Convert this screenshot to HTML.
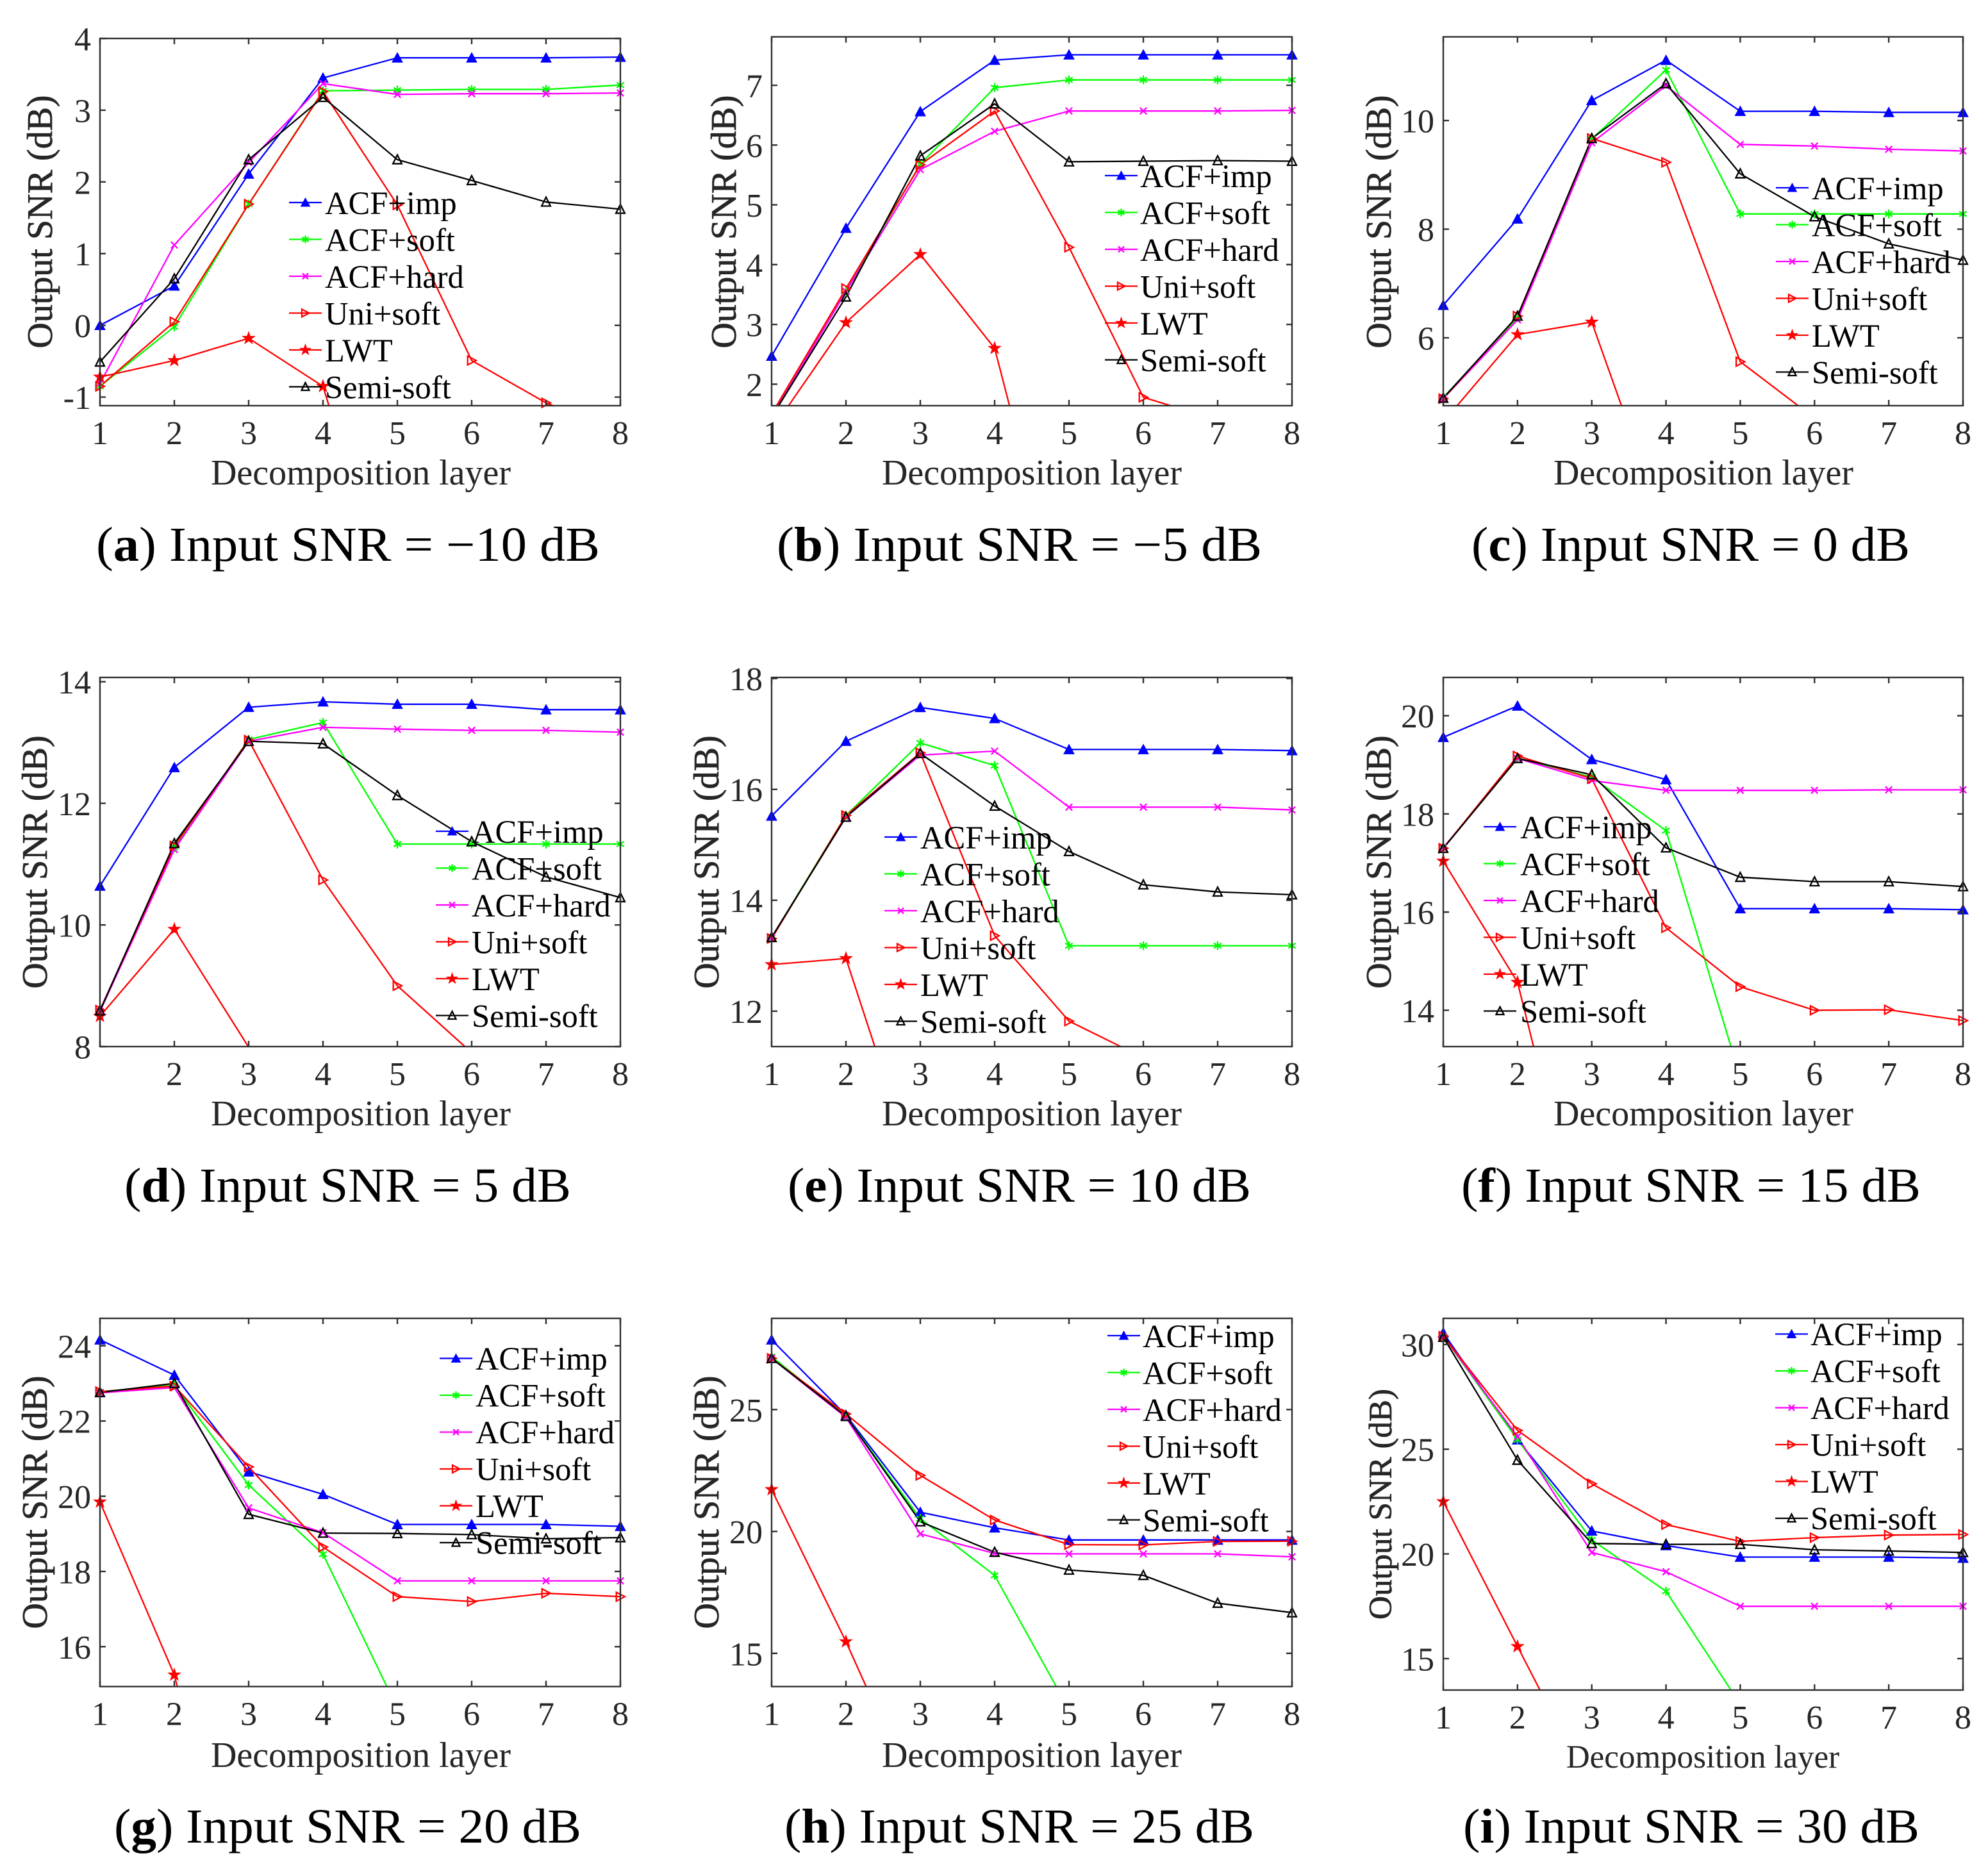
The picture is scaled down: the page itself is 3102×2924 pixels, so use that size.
<!DOCTYPE html>
<html lang="en">
<head>
<meta charset="utf-8">
<title>Output SNR versus decomposition layer</title>
<style>
html,body{margin:0;padding:0;background:#fff;width:3102px;height:2924px;overflow:hidden;}
svg{display:block;font-family:"Liberation Serif",serif;overflow:hidden;}
.xl{font-size:56px;fill:#262626;text-anchor:middle;}
.yl{font-size:56px;fill:#262626;text-anchor:middle;stroke:#262626;stroke-width:0.7px;}
.lg{font-size:50.6px;fill:#000;}
.cap{font-size:76px;fill:#000;}
.cap tspan{font-weight:bold;}
.tk{font-size:52px;fill:#262626;}
</style>
</head>
<body>
<svg id="figure" xmlns="http://www.w3.org/2000/svg" width="3102" height="2924" viewBox="0 0 3102 2924">
<rect x="0" y="0" width="3102" height="2924" fill="#fff"/>
<g id="plots"></g>

<g>
<text class="xl" x="563" y="756">Decomposition layer</text>
<text class="yl" transform="translate(81 346) rotate(-90)">Output SNR (dB)</text>
<text class="lg" x="507" y="334">ACF+imp</text>
<text class="lg" x="507" y="391.5">ACF+soft</text>
<text class="lg" x="507" y="449">ACF+hard</text>
<text class="lg" x="507" y="506.5">Uni+soft</text>
<text class="lg" x="507" y="564">LWT</text>
<text class="lg" x="507" y="621.5">Semi-soft</text>
<text class="cap" x="150" y="875" textLength="786" lengthAdjust="spacingAndGlyphs">(<tspan>a</tspan>) Input SNR = −10 dB</text>
</g>

<g>
<text class="xl" x="1610" y="756">Decomposition layer</text>
<text class="yl" transform="translate(1148 346) rotate(-90)">Output SNR (dB)</text>
<text class="lg" x="1779" y="292">ACF+imp</text>
<text class="lg" x="1779" y="349.5">ACF+soft</text>
<text class="lg" x="1779" y="407">ACF+hard</text>
<text class="lg" x="1779" y="464.5">Uni+soft</text>
<text class="lg" x="1779" y="522">LWT</text>
<text class="lg" x="1779" y="579.5">Semi-soft</text>
<text class="cap" x="1212" y="875" textLength="757" lengthAdjust="spacingAndGlyphs">(<tspan>b</tspan>) Input SNR = −5 dB</text>
</g>

<g>
<text class="xl" x="2658" y="756">Decomposition layer</text>
<text class="yl" transform="translate(2170 346) rotate(-90)">Output SNR (dB)</text>
<text class="lg" x="2827" y="311">ACF+imp</text>
<text class="lg" x="2827" y="368.5">ACF+soft</text>
<text class="lg" x="2827" y="426">ACF+hard</text>
<text class="lg" x="2827" y="483.5">Uni+soft</text>
<text class="lg" x="2827" y="541">LWT</text>
<text class="lg" x="2827" y="598.5">Semi-soft</text>
<text class="cap" x="2296" y="875" textLength="684" lengthAdjust="spacingAndGlyphs">(<tspan>c</tspan>) Input SNR = 0 dB</text>
</g>

<g>
<text class="xl" x="563" y="1756">Decomposition layer</text>
<text class="yl" transform="translate(73 1345) rotate(-90)">Output SNR (dB)</text>
<text class="lg" x="736" y="1315">ACF+imp</text>
<text class="lg" x="736" y="1372.5">ACF+soft</text>
<text class="lg" x="736" y="1430">ACF+hard</text>
<text class="lg" x="736" y="1487.5">Uni+soft</text>
<text class="lg" x="736" y="1545">LWT</text>
<text class="lg" x="736" y="1602.5">Semi-soft</text>
<text class="cap" x="194" y="1875" textLength="697" lengthAdjust="spacingAndGlyphs">(<tspan>d</tspan>) Input SNR = 5 dB</text>
</g>

<g>
<text class="xl" x="1610" y="1756">Decomposition layer</text>
<text class="yl" transform="translate(1121 1345) rotate(-90)">Output SNR (dB)</text>
<text class="lg" x="1436" y="1324">ACF+imp</text>
<text class="lg" x="1436" y="1381.5">ACF+soft</text>
<text class="lg" x="1436" y="1439">ACF+hard</text>
<text class="lg" x="1436" y="1496.5">Uni+soft</text>
<text class="lg" x="1436" y="1554">LWT</text>
<text class="lg" x="1436" y="1611.5">Semi-soft</text>
<text class="cap" x="1229" y="1875" textLength="723" lengthAdjust="spacingAndGlyphs">(<tspan>e</tspan>) Input SNR = 10 dB</text>
</g>

<g>
<text class="xl" x="2658" y="1756">Decomposition layer</text>
<text class="yl" transform="translate(2170 1345) rotate(-90)">Output SNR (dB)</text>
<text class="lg" x="2372" y="1308">ACF+imp</text>
<text class="lg" x="2372" y="1365.5">ACF+soft</text>
<text class="lg" x="2372" y="1423">ACF+hard</text>
<text class="lg" x="2372" y="1480.5">Uni+soft</text>
<text class="lg" x="2372" y="1538">LWT</text>
<text class="lg" x="2372" y="1595.5">Semi-soft</text>
<text class="cap" x="2280" y="1875" textLength="717" lengthAdjust="spacingAndGlyphs">(<tspan>f</tspan>) Input SNR = 15 dB</text>
</g>

<g>
<text class="xl" x="563" y="2757">Decomposition layer</text>
<text class="yl" transform="translate(73 2344) rotate(-90)">Output SNR (dB)</text>
<text class="lg" x="742" y="2137">ACF+imp</text>
<text class="lg" x="742" y="2194.5">ACF+soft</text>
<text class="lg" x="742" y="2252">ACF+hard</text>
<text class="lg" x="742" y="2309.5">Uni+soft</text>
<text class="lg" x="742" y="2367">LWT</text>
<text class="lg" x="742" y="2424.5">Semi-soft</text>
<text class="cap" x="178" y="2875" textLength="729" lengthAdjust="spacingAndGlyphs">(<tspan>g</tspan>) Input SNR = 20 dB</text>
</g>

<g>
<text class="xl" x="1610" y="2757">Decomposition layer</text>
<text class="yl" transform="translate(1121 2344) rotate(-90)">Output SNR (dB)</text>
<text class="lg" x="1783" y="2102">ACF+imp</text>
<text class="lg" x="1783" y="2159.5">ACF+soft</text>
<text class="lg" x="1783" y="2217">ACF+hard</text>
<text class="lg" x="1783" y="2274.5">Uni+soft</text>
<text class="lg" x="1783" y="2332">LWT</text>
<text class="lg" x="1783" y="2389.5">Semi-soft</text>
<text class="cap" x="1224" y="2875" textLength="733" lengthAdjust="spacingAndGlyphs">(<tspan>h</tspan>) Input SNR = 25 dB</text>
</g>

<g>
<text class="xl" style="font-size:51px" x="2657" y="2758">Decomposition layer</text>
<text class="yl" style="font-size:51px" transform="translate(2171 2347) rotate(-90)">Output SNR (dB)</text>
<text class="lg" x="2825" y="2099">ACF+imp</text>
<text class="lg" x="2825" y="2156.5">ACF+soft</text>
<text class="lg" x="2825" y="2214">ACF+hard</text>
<text class="lg" x="2825" y="2271.5">Uni+soft</text>
<text class="lg" x="2825" y="2329">LWT</text>
<text class="lg" x="2825" y="2386.5">Semi-soft</text>
<text class="cap" x="2283" y="2875" textLength="712" lengthAdjust="spacingAndGlyphs">(<tspan>i</tspan>) Input SNR = 30 dB</text>
</g>
</svg>

<script>
// Categories (decomposition layers)
const layers = [1, 2, 3, 4, 5, 6, 7, 8];

// Panel (a) Input SNR = -10 dB
const imp_a  = [0.00, 0.55, 2.11, 3.45, 3.73, 3.73, 3.73, 3.74];
const soft_a = [-0.85, -0.02, 1.69, 3.27, 3.28, 3.29, 3.29, 3.35];
const hard_a = [-0.81, 1.12, 2.27, 3.37, 3.22, 3.23, 3.23, 3.24];
const uni_a  = [-0.85, 0.05, 1.69, 3.26, 1.68, -0.49, -1.08, -1.5];
const lwt_a  = [-0.72, -0.49, -0.18, -0.85, -4.2, -6, -7, -8];
const semi_a = [-0.51, 0.65, 2.31, 3.18, 2.31, 2.02, 1.72, 1.62];
const ticks_a = [-1, 0, 1, 2, 3, 4];
const domain_a = [-1.12, 4];

// Panel (b) Input SNR = -5 dB
const imp_b  = [2.47, 4.61, 6.56, 7.42, 7.51, 7.51, 7.51, 7.51];
const soft_b = [1.45, 3.55, 5.68, 6.96, 7.09, 7.09, 7.09, 7.09];
const hard_b = [1.45, 3.55, 5.59, 6.23, 6.57, 6.57, 6.57, 6.58];
const uni_b  = [1.5, 3.6, 5.67, 6.57, 4.29, 1.78, 1.4, 1.2];
const lwt_b  = [1.23, 3.03, 4.17, 2.6, -2.2, -3, -4, -5];
const semi_b = [1.45, 3.46, 5.82, 6.69, 5.72, 5.73, 5.74, 5.73];
const ticks_b = [2, 3, 4, 5, 6, 7];
const domain_b = [1.64, 7.81];

// Panel (c) Input SNR = 0 dB
const imp_c  = [6.6, 8.19, 10.37, 11.11, 10.17, 10.17, 10.15, 10.15];
const soft_c = [4.9, 6.37, 9.66, 10.93, 8.28, 8.28, 8.28, 8.28];
const hard_c = [4.88, 6.33, 9.59, 10.64, 9.56, 9.53, 9.47, 9.44];
const uni_c  = [4.88, 6.4, 9.67, 9.23, 5.56, 4.52, 3.9, 3.4];
const lwt_c  = [4.45, 6.06, 6.29, 2.44, 1.5, 1.0, 0.5, 0];
const semi_c = [4.89, 6.4, 9.67, 10.68, 9.02, 8.23, 7.73, 7.43];
const ticks_c = [6, 8, 10];
const domain_c = [4.75, 11.54];

// Panel (d) Input SNR = 5 dB
const imp_d  = [10.64, 12.59, 13.58, 13.67, 13.63, 13.63, 13.54, 13.54];
const soft_d = [8.58, 11.27, 13.05, 13.33, 11.33, 11.33, 11.33, 11.33];
const hard_d = [8.58, 11.24, 13.02, 13.25, 13.22, 13.2, 13.2, 13.17];
const uni_d  = [8.6, 11.3, 13.04, 10.74, 9.0, 7.9, 7, 6];
const lwt_d  = [8.5, 9.93, 7.99, 6, 5, 4, 3, 2];
const semi_d = [8.59, 11.34, 13.02, 12.98, 12.13, 11.37, 10.79, 10.45];
const ticks_d = [8, 10, 12, 14];
const domain_d = [8.0, 14.07];

// Panel (e) Input SNR = 10 dB
const imp_e  = [15.52, 16.87, 17.48, 17.28, 16.72, 16.72, 16.72, 16.7];
const soft_e = [13.33, 15.53, 16.84, 16.43, 13.18, 13.18, 13.18, 13.18];
const hard_e = [13.33, 15.5, 16.62, 16.69, 15.68, 15.68, 15.68, 15.63];
const uni_e  = [13.31, 15.53, 16.66, 13.36, 11.82, 11.16, 10.6, 10];
const lwt_e  = [12.84, 12.95, 8.85, 8, 7, 6, 5, 4];
const semi_e = [13.33, 15.5, 16.65, 15.7, 14.88, 14.28, 14.15, 14.1];
const ticks_e = [12, 14, 16, 18];
const domain_e = [11.36, 18.02];

// Panel (f) Input SNR = 15 dB
const imp_f  = [19.56, 20.2, 19.11, 18.7, 16.07, 16.07, 16.07, 16.05];
const soft_f = [17.31, 19.13, 18.75, 17.66, 12.63, 11, 10, 9];
const hard_f = [17.31, 19.13, 18.68, 18.48, 18.48, 18.48, 18.49, 18.49];
const uni_f  = [17.3, 19.18, 18.72, 15.68, 14.48, 14.0, 14.01, 13.79];
const lwt_f  = [17.04, 14.57, 8.5, 8, 7, 6, 5, 4];
const semi_f = [17.3, 19.13, 18.8, 17.31, 16.71, 16.62, 16.62, 16.52];
const ticks_f = [14, 16, 18, 20];
const domain_f = [13.26, 20.78];

// Panel (g) Input SNR = 20 dB
const imp_g  = [24.16, 23.22, 20.65, 20.05, 19.25, 19.25, 19.25, 19.2];
const soft_g = [22.78, 22.95, 20.3, 18.46, 14.36, 13, 12, 11];
const hard_g = [22.75, 22.89, 19.69, 19.03, 17.75, 17.75, 17.75, 17.75];
const uni_g  = [22.78, 22.93, 20.78, 18.65, 17.33, 17.2, 17.42, 17.33];
const lwt_g  = [19.85, 15.25, 7.5, 6, 5, 4, 3, 2];
const semi_g = [22.76, 23.0, 19.52, 19.02, 19.01, 18.98, 18.87, 18.9];
const ticks_g = [16, 18, 20, 22, 24];
const domain_g = [14.94, 24.73];

// Panel (h) Input SNR = 25 dB
const imp_h  = [27.86, 24.77, 20.79, 20.15, 19.65, 19.65, 19.65, 19.65];
const soft_h = [27.17, 24.72, 20.53, 18.2, 12.7, 11, 10, 9];
const hard_h = [27.1, 24.68, 19.9, 19.1, 19.08, 19.08, 19.08, 18.96];
const uni_h  = [27.1, 24.82, 22.3, 20.47, 19.46, 19.45, 19.59, 19.6];
const lwt_h  = [21.72, 15.48, 8.7, 7, 6, 5, 4, 3];
const semi_h = [27.1, 24.72, 20.4, 19.15, 18.42, 18.2, 17.06, 16.67];
const ticks_h = [15, 20, 25];
const domain_h = [13.64, 28.74];

// Panel (i) Input SNR = 30 dB
const imp_i  = [30.56, 25.45, 21.1, 20.4, 19.85, 19.85, 19.85, 19.8];
const soft_i = [30.4, 25.45, 20.67, 18.22, 12.83, 11, 10, 9];
const hard_i = [30.4, 25.6, 20.07, 19.15, 17.5, 17.5, 17.5, 17.5];
const uni_i  = [30.4, 25.9, 23.35, 21.4, 20.6, 20.78, 20.9, 20.93];
const lwt_i  = [22.5, 15.58, 8.7, 7, 6, 5, 4, 3];
const semi_i = [30.35, 24.48, 20.5, 20.46, 20.46, 20.2, 20.14, 20.07];
const ticks_i = [15, 20, 25, 30];
const domain_i = [13.5, 31.25];

const seriesNames = ['acf-imp', 'acf-soft', 'acf-hard', 'uni-soft', 'lwt', 'semi-soft'];
const seriesColors = ['#0000ff', '#00ff00', '#ff00ff', '#ff0000', '#ff0000', '#000000'];
const seriesMarkers = ['triFill', 'aster', 'cross', 'triRight', 'star', 'triOpen'];

// Frame and legend layout, separate from the data
const panels = [
  {id:'a', box:[156,968,60,633],    legend:[451,316],   xt:[1,2,3,4,5,6,7,8], y:domain_a, t:ticks_a, s:[imp_a,soft_a,hard_a,uni_a,lwt_a,semi_a]},
  {id:'b', box:[1204,2016,57.5,633],legend:[1724,274],  xt:[1,2,3,4,5,6,7,8], y:domain_b, t:ticks_b, s:[imp_b,soft_b,hard_b,uni_b,lwt_b,semi_b]},
  {id:'c', box:[2252,3063,57.5,633],legend:[2771,293],  xt:[1,2,3,4,5,6,7,8], y:domain_c, t:ticks_c, s:[imp_c,soft_c,hard_c,uni_c,lwt_c,semi_c]},
  {id:'d', box:[156,968,1057,1633], legend:[680,1297],  xt:[2,3,4,5,6,7,8],   y:domain_d, t:ticks_d, s:[imp_d,soft_d,hard_d,uni_d,lwt_d,semi_d]},
  {id:'e', box:[1204,2016,1057,1633],legend:[1380,1306],xt:[1,2,3,4,5,6,7,8], y:domain_e, t:ticks_e, s:[imp_e,soft_e,hard_e,uni_e,lwt_e,semi_e]},
  {id:'f', box:[2252,3063,1057,1633],legend:[2315,1290],xt:[1,2,3,4,5,6,7,8], y:domain_f, t:ticks_f, s:[imp_f,soft_f,hard_f,uni_f,lwt_f,semi_f]},
  {id:'g', box:[156,968,2057,2631.5],legend:[686,2119.5],xt:[1,2,3,4,5,6,7,8],y:domain_g, t:ticks_g, s:[imp_g,soft_g,hard_g,uni_g,lwt_g,semi_g]},
  {id:'h', box:[1204,2016,2057,2631.5],legend:[1728,2084],xt:[1,2,3,4,5,6,7,8],y:domain_h,t:ticks_h, s:[imp_h,soft_h,hard_h,uni_h,lwt_h,semi_h]},
  {id:'i', box:[2252,3063,2057,2637],legend:[2770,2081.5],xt:[1,2,3,4,5,6,7,8],y:domain_i,t:ticks_i, s:[imp_i,soft_i,hard_i,uni_i,lwt_i,semi_i]}
];

const NS = 'http://www.w3.org/2000/svg';
function make(tag, attrs, parent) {
  const node = document.createElementNS(NS, tag);
  for (const k in attrs) node.setAttribute(k, attrs[k]);
  if (parent) parent.appendChild(node);
  return node;
}

function xAxis(box) {
  return function (v) { return box[0] + (v - 1) * (box[1] - box[0]) / 7; };
}
function yAxis(box, dom) {
  return function (v) { return box[3] - (v - dom[0]) * (box[3] - box[2]) / (dom[1] - dom[0]); };
}

// Build a path from mapped points, cutting every segment at the plot's top and bottom edges
function clippedPath(points, top, bottom) {
  let d = '';
  let pen = false;
  for (let i = 0; i < points.length - 1; i++) {
    const a = points[i], b = points[i + 1];
    if ((a[1] > bottom && b[1] > bottom) || (a[1] < top && b[1] < top)) { pen = false; continue; }
    let t0 = 0, t1 = 1;
    const dy = b[1] - a[1];
    if (a[1] > bottom) t0 = (bottom - a[1]) / dy;
    if (a[1] < top) t0 = (top - a[1]) / dy;
    if (b[1] > bottom) t1 = (bottom - a[1]) / dy;
    if (b[1] < top) t1 = (top - a[1]) / dy;
    const sx = a[0] + t0 * (b[0] - a[0]), sy = a[1] + t0 * dy;
    const ex = a[0] + t1 * (b[0] - a[0]), ey = a[1] + t1 * dy;
    if (!pen) d += 'M' + sx.toFixed(1) + ' ' + sy.toFixed(1);
    d += 'L' + ex.toFixed(1) + ' ' + ey.toFixed(1);
    pen = t1 === 1;
  }
  return d;
}

function drawMarker(kind, cx, cy, color, parent, k) {
  const g = make('g', {}, parent);
  
  
  const sw = 2.3;
  if (kind === 'triFill') {
    make('polygon', {points:(cx-7*k)+','+(cy+6*k)+' '+(cx+7*k)+','+(cy+6*k)+' '+cx+','+(cy-7*k), fill:color, stroke:color, 'stroke-width':1}, g);
  } else if (kind === 'triOpen') {
    make('polygon', {points:(cx-6*k)+','+(cy+5.5*k)+' '+(cx+6*k)+','+(cy+5.5*k)+' '+cx+','+(cy-6.5*k), fill:'none', stroke:color, 'stroke-width':sw}, g);
  } else if (kind === 'triRight') {
    make('polygon', {points:(cx-5.5*k)+','+(cy-6*k)+' '+(cx-5.5*k)+','+(cy+6*k)+' '+(cx+6*k)+','+cy, fill:'none', stroke:color, 'stroke-width':sw}, g);
  } else if (kind === 'star') {
    const pts = [];
    for (let i = 0; i < 10; i++) {
      const r = (i % 2 === 0 ? 9 : 3.6) * k;
      const a = -Math.PI / 2 + i * Math.PI / 5;
      pts.push((cx + r * Math.cos(a)).toFixed(1) + ',' + (cy + r * Math.sin(a)).toFixed(1));
    }
    make('polygon', {points:pts.join(' '), fill:color, stroke:color, 'stroke-width':0.8}, g);
  } else if (kind === 'aster') {
    const a = 6 * k, b = 5 * k, c = 3.5 * k;
    make('path', {d:'M'+cx+' '+(cy-a)+'V'+(cy+a)+'M'+(cx-b)+' '+(cy-c)+'L'+(cx+b)+' '+(cy+c)+'M'+(cx-b)+' '+(cy+c)+'L'+(cx+b)+' '+(cy-c), fill:'none', stroke:color, 'stroke-width':sw}, g);
  } else if (kind === 'cross') {
    const d = 4.5 * k;
    make('path', {d:'M'+(cx-d)+' '+(cy-d)+'L'+(cx+d)+' '+(cy+d)+'M'+(cx-d)+' '+(cy+d)+'L'+(cx+d)+' '+(cy-d), fill:'none', stroke:color, 'stroke-width':sw}, g);
  }
}

const plots = document.getElementById('plots');

panels.forEach(function (p) {
  const box = p.box;
  const X = xAxis(box);
  const Y = yAxis(box, p.y);

  const group = make('g', {}, plots);
  
  

  const linesG = make('g', {}, group);
  
  
  const marksG = make('g', {}, group);
  
  

  p.s.forEach(function (vals, si) {
    const mapped = vals.map(function (v, i) { return [X(layers[i]), Y(v)]; });
    const line = make('path', {d:clippedPath(mapped, box[2], box[3]), fill:'none', stroke:seriesColors[si], 'stroke-width':2.3, 'stroke-linejoin':'round'}, linesG);
    
    
    vals.forEach(function (v, i) {
      if (v >= p.y[0] && v <= p.y[1]) drawMarker(seriesMarkers[si], X(layers[i]), Y(v), seriesColors[si], marksG, 1.15);
    });
  });

  const axes = make('g', {stroke:'#303030', 'stroke-width':2.4, fill:'none'}, group);
  
  
  const frame = make('rect', {x:box[0], y:box[2], width:box[1]-box[0], height:box[3]-box[2]}, axes);
  
  

  const tickLen = 9;
  layers.forEach(function (v) {
    const tx = X(v);
    make('path', {d:'M'+tx+' '+box[3]+'V'+(box[3]-tickLen)+'M'+tx+' '+box[2]+'V'+(box[2]+tickLen)}, axes);
  });
  p.xt.forEach(function (v) {
    const t = make('text', {x:X(v), y:box[3]+60, 'text-anchor':'middle', 'class':'tk'}, group);
    
    
    t.textContent = String(v);
  });
  p.t.forEach(function (v) {
    const ty = Y(v);
    make('path', {d:'M'+box[0]+' '+ty+'H'+(box[0]+tickLen)+'M'+box[1]+' '+ty+'H'+(box[1]-tickLen)}, axes);
    const t = make('text', {x:box[0]-14, y:ty+18.5, 'text-anchor':'end', 'class':'tk'}, group);
    
    
    t.textContent = String(v);
  });

  const legend = make('g', {}, group);
  
  
  seriesNames.forEach(function (name, si) {
    const ly = p.legend[1] + si * 57.5;
    const lx = p.legend[0];
    const key = make('g', {}, legend);
    
    
    make('line', {x1:lx, x2:lx+51, y1:ly, y2:ly, stroke:seriesColors[si], 'stroke-width':2.3}, key);
    drawMarker(seriesMarkers[si], lx+25.5, ly, seriesColors[si], key, 1);
  });
});
</script>
</body>
</html>
